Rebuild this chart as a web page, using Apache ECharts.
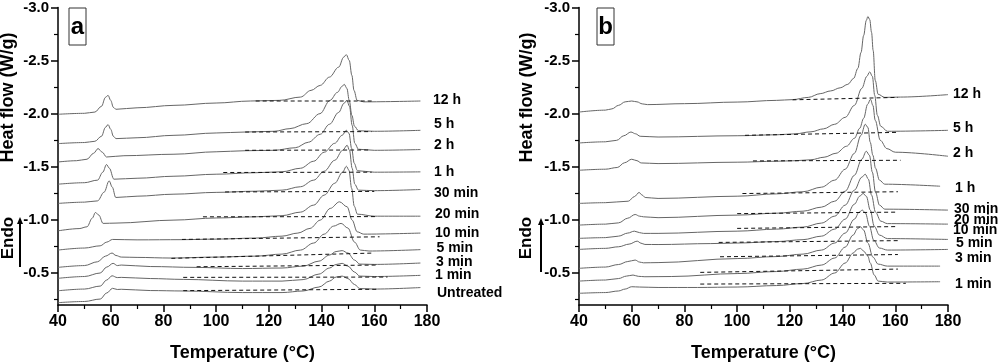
<!DOCTYPE html>
<html><head><meta charset="utf-8">
<script src="https://cdn.jsdelivr.net/npm/echarts@6/dist/echarts.min.js"></script>
<style>html,body{margin:0;padding:0;background:#fff}#c{width:1000px;height:363px}</style>
</head><body><div id="c"></div>
<script>
// ---------- DATA (Temperature °C, Heat flow W/g) ----------
const xTickRange = [40, 180];
const yMajorTicks = [-3.0, -2.5, -2.0, -1.5, -1.0, -0.5];
const yMinorTicks = [-2.75, -2.25, -1.75, -1.25, -0.75, -0.25];

// Panel a
const A_12h = [[40,-1.995],[50,-2.004],[54,-2.016],[56.5,-2.070],[58,-2.154],[59,-2.173],[60,-2.126],[61,-2.060],[62,-2.042],[70,-2.056],[84,-2.079],[100,-2.101],[113,-2.120],[124,-2.126],[132,-2.157],[136,-2.220],[139.5,-2.267],[143,-2.345],[146.5,-2.439],[148.4,-2.533],[149.4,-2.556],[150.5,-2.502],[151.5,-2.361],[152.3,-2.220],[153.5,-2.126],[156,-2.112],[177.5,-2.120]];
const A_5h = [[40,-1.719],[50,-1.729],[54,-1.741],[56.5,-1.788],[58,-1.872],[59,-1.898],[60,-1.854],[61,-1.788],[62,-1.766],[70,-1.774],[84,-1.797],[100,-1.819],[111,-1.828],[122,-1.835],[128,-1.860],[134.4,-1.907],[139.4,-2.001],[143.2,-2.126],[146,-2.201],[147.8,-2.258],[148.6,-2.277],[149.6,-2.239],[150.5,-2.126],[151.5,-1.985],[152.5,-1.882],[154,-1.840],[160,-1.835],[177.5,-1.844]];
const A_2h = [[40,-1.546],[47,-1.558],[51,-1.572],[53.5,-1.628],[55.2,-1.672],[56.8,-1.638],[58.4,-1.593],[65,-1.605],[84,-1.619],[100,-1.642],[111,-1.652],[122,-1.656],[130,-1.680],[135,-1.732],[139.5,-1.807],[143,-1.901],[146.5,-2.013],[148.5,-2.098],[149.6,-2.126],[150.6,-2.070],[151.6,-1.891],[152.6,-1.722],[154,-1.666],[160,-1.656],[177.5,-1.663]];
const A_1h = [[40,-1.337],[50,-1.351],[55,-1.375],[57,-1.450],[58.4,-1.522],[59.5,-1.487],[61.2,-1.384],[70,-1.393],[84,-1.412],[100,-1.431],[115,-1.445],[125,-1.454],[132,-1.487],[137,-1.553],[141,-1.638],[145,-1.722],[147.8,-1.797],[149.4,-1.844],[150.4,-1.816],[151.4,-1.675],[152.4,-1.534],[153.6,-1.464],[160,-1.450],[177.5,-1.453]];
const A_30m = [[40,-1.156],[50,-1.168],[55,-1.180],[57.5,-1.262],[59.4,-1.368],[60.6,-1.309],[61.9,-1.212],[70,-1.224],[84,-1.243],[100,-1.260],[115,-1.271],[125,-1.281],[132,-1.313],[137,-1.375],[141,-1.459],[145,-1.562],[148,-1.656],[149.7,-1.703],[150.6,-1.656],[151.6,-1.487],[152.6,-1.337],[154,-1.281],[160,-1.276],[177.5,-1.287]];
const A_20m = [[40,-0.898],[48,-0.919],[51,-0.936],[53,-1.017],[54.2,-1.071],[55.5,-1.046],[57.1,-0.968],[62,-0.971],[84,-0.999],[100,-1.019],[115,-1.030],[125,-1.041],[132,-1.074],[137,-1.140],[141,-1.234],[145,-1.346],[148,-1.450],[149.4,-1.506],[150.4,-1.468],[151.4,-1.299],[152.4,-1.130],[153.6,-1.055],[160,-1.036],[177.5,-1.036]];
const A_10m = [[40,-0.717],[50,-0.736],[56,-0.757],[58.5,-0.792],[60.7,-0.817],[70,-0.813],[87,-0.815],[100,-0.820],[115,-0.830],[125,-0.848],[131,-0.877],[135.6,-0.921],[139.5,-0.999],[143.3,-1.109],[146.8,-1.171],[149.7,-1.124],[151.6,-0.999],[153.5,-0.889],[156,-0.867],[177.5,-0.877]];
const A_5m = [[40,-0.554],[50,-0.571],[55,-0.607],[58,-0.660],[60.5,-0.689],[62,-0.666],[64,-0.651],[70,-0.648],[83,-0.642],[100,-0.651],[115,-0.660],[125,-0.679],[132,-0.717],[137,-0.783],[141,-0.867],[144.5,-0.942],[147.4,-0.968],[150,-0.924],[152.5,-0.792],[154.7,-0.717],[158,-0.708],[177.5,-0.721]];
const A_3m = [[40,-0.451],[50,-0.468],[56,-0.501],[58.5,-0.557],[60.9,-0.592],[62.5,-0.571],[64,-0.576],[75,-0.562],[92,-0.554],[110,-0.543],[125,-0.548],[133,-0.566],[139,-0.613],[143,-0.670],[145.5,-0.703],[147.8,-0.712],[150,-0.689],[152.5,-0.623],[154.5,-0.585],[160,-0.582],[177.5,-0.595]];
const A_1m = [[40,-0.334],[50,-0.350],[56,-0.378],[58.5,-0.435],[60.5,-0.475],[62.5,-0.458],[64,-0.460],[75,-0.449],[87.5,-0.441],[110,-0.425],[125,-0.425],[133,-0.439],[139,-0.491],[143,-0.548],[145.5,-0.581],[147.8,-0.592],[150,-0.566],[152.5,-0.510],[154.5,-0.472],[160,-0.468],[177.5,-0.479]];
const A_un = [[40,-0.222],[50,-0.233],[56,-0.256],[58.5,-0.313],[60.7,-0.357],[62.5,-0.346],[64,-0.348],[75,-0.336],[87.5,-0.332],[110,-0.317],[125,-0.317],[133,-0.332],[139,-0.369],[143,-0.425],[145.5,-0.463],[147.8,-0.472],[150,-0.449],[152.5,-0.393],[154.5,-0.355],[160,-0.350],[177.5,-0.364]];

const A_12h_base = [[115,-2.120],[160,-2.120]];
const A_5h_base = [[111,-1.828],[159,-1.832]];
const A_2h_base = [[111,-1.656],[158,-1.659]];
const A_1h_base = [[102.7,-1.447],[159,-1.450]];
const A_30m_base = [[103.4,-1.264],[160,-1.269]];
const A_20m_base = [[95,-1.030],[161,-1.032]];
const A_10m_base = [[87,-0.817],[162,-0.842]];
const A_5m_base = [[83,-0.639],[160,-0.689]];
const A_3m_base = [[92.6,-0.560],[161,-0.576]];
const A_1m_base = [[87.5,-0.460],[165,-0.463]];
const A_un_base = [[87.5,-0.335],[161,-0.348]];

const labelsA = ['12 h','5 h','2 h','1 h','30 min','20 min','10 min','5 min','3 min','1 min','Untreated'];

// Panel b
const B_12h = [[40,-2.016],[50,-2.034],[52.5,-2.046],[55,-2.079],[57.5,-2.112],[60,-2.120],[62,-2.112],[64,-2.093],[66,-2.086],[80,-2.095],[100,-2.110],[115,-2.126],[121,-2.133],[127,-2.154],[131.5,-2.189],[135.5,-2.215],[139.1,-2.244],[142,-2.277],[144.2,-2.333],[145.8,-2.427],[147,-2.577],[148,-2.737],[149,-2.878],[149.6,-2.915],[150.3,-2.887],[151,-2.765],[151.6,-2.596],[152.4,-2.314],[153.5,-2.183],[156,-2.154],[162,-2.157],[180,-2.180]];
const B_5h = [[40,-1.725],[50,-1.736],[54.3,-1.750],[57,-1.793],[59.7,-1.828],[61.5,-1.811],[63.2,-1.788],[70,-1.781],[100,-1.793],[115,-1.802],[122,-1.811],[128,-1.830],[132.8,-1.858],[137,-1.901],[141,-1.966],[144.5,-2.079],[147.3,-2.239],[149.2,-2.352],[150.3,-2.394],[151.3,-2.352],[152.2,-2.173],[153.2,-1.985],[154.5,-1.882],[157,-1.835],[180,-1.844]];
const B_2h = [[40,-1.468],[50,-1.478],[54.5,-1.494],[57.3,-1.539],[60,-1.572],[62,-1.558],[63.6,-1.537],[70,-1.531],[100,-1.544],[115,-1.553],[122,-1.558],[128,-1.567],[133,-1.591],[137.5,-1.628],[141.5,-1.694],[144.5,-1.769],[146.5,-1.863],[148,-1.957],[149.5,-2.089],[150.6,-2.136],[151.5,-2.079],[152.4,-1.938],[154.3,-1.750],[156.8,-1.672],[160,-1.638],[180,-1.600]];
const B_1h = [[40,-1.156],[50,-1.163],[58.7,-1.177],[61,-1.220],[62.8,-1.259],[64,-1.234],[65.1,-1.212],[70,-1.203],[100,-1.224],[115,-1.246],[125,-1.266],[132,-1.309],[137,-1.375],[141,-1.478],[144.5,-1.628],[147,-1.797],[148.6,-1.901],[149.6,-1.872],[150.5,-1.732],[151.5,-1.609],[152.5,-1.487],[154,-1.375],[156,-1.337],[177,-1.318]];
const B_30m = [[40,-0.952],[50,-0.961],[55,-0.973],[58.5,-1.017],[61.3,-1.052],[63,-1.036],[64.5,-1.030],[70,-1.022],[100,-1.046],[115,-1.064],[125,-1.083],[132,-1.121],[137,-1.177],[141,-1.271],[144.5,-1.421],[147.3,-1.572],[149,-1.647],[150.2,-1.609],[151.3,-1.450],[152.5,-1.262],[154,-1.140],[156,-1.102],[180,-1.093]];
const B_20m = [[40,-0.827],[50,-0.834],[55,-0.848],[58.5,-0.877],[61,-0.895],[63,-0.881],[64.5,-0.874],[70,-0.874],[100,-0.895],[115,-0.914],[125,-0.933],[132,-0.971],[137,-1.036],[141,-1.140],[144.5,-1.281],[147.3,-1.403],[148.6,-1.431],[149.8,-1.384],[151,-1.234],[152.5,-1.074],[154.5,-0.989],[157,-0.966],[180,-0.961]];
const B_10m = [[40,-0.723],[50,-0.733],[55,-0.748],[59,-0.773],[62.1,-0.801],[63.5,-0.782],[65,-0.770],[70,-0.769],[90,-0.778],[100,-0.783],[115,-0.797],[125,-0.815],[132,-0.848],[137,-0.914],[141,-1.008],[144.5,-1.149],[146.5,-1.224],[147.8,-1.250],[149,-1.224],[150.5,-1.093],[152,-0.942],[154,-0.858],[157,-0.825],[180,-0.817]];
const B_5m = [[40,-0.545],[50,-0.557],[55,-0.581],[58.5,-0.609],[61.3,-0.623],[63,-0.604],[64.5,-0.597],[70,-0.599],[100,-0.637],[115,-0.656],[125,-0.679],[132,-0.717],[137,-0.783],[141,-0.877],[144.5,-1.008],[146.3,-1.074],[147.5,-1.093],[148.7,-1.064],[150.2,-0.942],[151.8,-0.811],[154,-0.736],[157,-0.717],[180,-0.723]];
const B_3m = [[40,-0.425],[50,-0.435],[55,-0.449],[58,-0.472],[60.5,-0.482],[62.5,-0.470],[65,-0.466],[75,-0.468],[100,-0.496],[115,-0.515],[125,-0.538],[132,-0.576],[137,-0.642],[141,-0.745],[144,-0.858],[145.7,-0.919],[146.8,-0.936],[148,-0.905],[149.6,-0.783],[151.5,-0.651],[153.5,-0.585],[157,-0.566],[177,-0.566]];
const B_1m = [[40,-0.310],[50,-0.317],[55,-0.332],[57.5,-0.350],[60,-0.372],[63,-0.369],[70,-0.365],[85,-0.365],[100,-0.369],[115,-0.383],[125,-0.402],[132,-0.435],[137,-0.501],[141,-0.595],[144,-0.689],[145.7,-0.726],[146.8,-0.733],[148,-0.707],[149.6,-0.660],[150.5,-0.595],[152,-0.482],[153.5,-0.425],[157,-0.416],[177,-0.419]];

const B_12h_base = [[121,-2.131],[161,-2.154]];
const B_5h_base = [[103,-1.797],[161,-1.825]];
const B_2h_base = [[106,-1.556],[162,-1.562]];
const B_1h_base = [[102,-1.249],[161,-1.266]];
const B_30m_base = [[100,-1.060],[161,-1.074]];
const B_20m_base = [[100,-0.921],[161,-0.938]];
const B_10m_base = [[93,-0.789],[162,-0.806]];
const B_5m_base = [[93.5,-0.654],[161,-0.675]];
const B_3m_base = [[86,-0.507],[161,-0.538]];
const B_1m_base = [[86,-0.397],[164,-0.404]];

const labelsB = ['12 h','5 h','2 h','1 h','30 min','20 min','10 min','5 min','3 min','1 min'];

// ---------- LAYOUT ----------
const FONT = '"Liberation Sans", Arial, Helvetica, sans-serif';
const curvesA = [A_12h,A_5h,A_2h,A_1h,A_30m,A_20m,A_10m,A_5m,A_3m,A_1m,A_un];
const basesA = [A_12h_base,A_5h_base,A_2h_base,A_1h_base,A_30m_base,A_20m_base,A_10m_base,A_5m_base,A_3m_base,A_1m_base,A_un_base];
const curvesB = [B_12h,B_5h,B_2h,B_1h,B_30m,B_20m,B_10m,B_5m,B_3m,B_1m];
const basesB = [B_12h_base,B_5h_base,B_2h_base,B_1h_base,B_30m_base,B_20m_base,B_10m_base,B_5m_base,B_3m_base,B_1m_base];
const labelPosA = {x:[433,434,434,434,434,435,435,436.5,436,435,437], y:[100,124,145,171.7,192.7,214,233.3,248.3,261.7,275,293.3]};
const labelPosB = {x:[953,953,953,955,954,954,953,956,955,955], y:[94.3,127.7,153.3,188.3,209,220,230,243.3,257.7,284]};

const grids = [
  {left:58, top:7, width:369, height:298},
  {left:579, top:7, width:369, height:298}
];

function xAxis(gi){
  return {type:'value', gridIndex:gi, min:xTickRange[0], max:xTickRange[1], interval:20,
    axisLine:{onZero:false, lineStyle:{color:'#000', width:1.5}},
    axisTick:{length:7, lineStyle:{color:'#000', width:1.5}},
    minorTick:{show:true, splitNumber:2, length:4, lineStyle:{color:'#000', width:1.2}},
    splitLine:{show:false}, minorSplitLine:{show:false},
    axisLabel:{color:'#000', fontSize:16, fontWeight:'bold', fontFamily:FONT, margin:9}};
}
function yAxisMajor(gi){
  return {type:'value', gridIndex:gi, inverse:true, min:-3, max:-0.2, position:'left',
    axisLine:{onZero:false, lineStyle:{color:'#000', width:1.5}},
    axisTick:{customValues:yMajorTicks, length:7, lineStyle:{color:'#000', width:1.5}},
    axisLabel:{customValues:yMajorTicks, formatter:v=>Number(v).toFixed(1), color:'#000', fontSize:15, fontWeight:'bold', fontFamily:FONT, margin:9},
    splitLine:{show:false}};
}
function yAxisMinor(gi){
  return {type:'value', gridIndex:gi, inverse:true, min:-3, max:-0.2, position:'left', offset:0,
    axisLine:{show:false},
    axisTick:{customValues:yMinorTicks, length:4, lineStyle:{color:'#000', width:1.2}},
    axisLabel:{show:false}, splitLine:{show:false}};
}

const series = [];
function addPanel(curves, bases, gi){
  bases.forEach(d => series.push({type:'line', xAxisIndex:gi, yAxisIndex:gi*2, data:d, showSymbol:false, silent:true,
    lineStyle:{color:'#111', width:1, type:[4,3]}, z:3}));
  curves.forEach(d => series.push({type:'line', xAxisIndex:gi, yAxisIndex:gi*2, data:d, showSymbol:false, silent:true,
    smooth:0.35, smoothMonotone:'x', lineStyle:{color:'#666', width:1}, z:2}));
}
addPanel(curvesA, basesA, 0);
addPanel(curvesB, basesB, 1);

const graphic = [];
function txt(x, y, text, size, opts){
  graphic.push(Object.assign({type:'text', x:x, y:y, silent:true,
    style:{text:text, fill:'#000', font:'bold '+size+'px '+FONT, textAlign:'left', textVerticalAlign:'middle'}}, opts||{}));
}
labelsA.forEach((t,i)=>txt(labelPosA.x[i], labelPosA.y[i], t, 14));
labelsB.forEach((t,i)=>txt(labelPosB.x[i], labelPosB.y[i], t, 14));

function panelDeco(cx, axisTitleX, arrowX, arrowTop, arrowBottom, boxX, letter){
  // x title
  graphic.push({type:'text', x:cx, y:353, silent:true, style:{text:'Temperature (°C)', fill:'#000', font:'bold 18px '+FONT, textAlign:'center', textVerticalAlign:'middle'}});
  // y title
  graphic.push({type:'text', x:axisTitleX, y:97.5, rotation:Math.PI/2, silent:true, style:{text:'Heat flow (W/g)', fill:'#000', font:'bold 18px '+FONT, textAlign:'center', textVerticalAlign:'middle'}});
  // Endo
  graphic.push({type:'text', x:axisTitleX, y:238, rotation:Math.PI/2, silent:true, style:{text:'Endo', fill:'#000', font:'bold 17px '+FONT, textAlign:'center', textVerticalAlign:'middle'}});
  // arrow
  graphic.push({type:'line', silent:true, shape:{x1:arrowX, y1:arrowBottom, x2:arrowX, y2:arrowTop+5}, style:{stroke:'#000', lineWidth:2}});
  graphic.push({type:'polygon', silent:true, shape:{points:[[arrowX, arrowTop],[arrowX-3, arrowTop+7],[arrowX+3, arrowTop+7]]}, style:{fill:'#000'}});
  // panel letter box
  graphic.push({type:'rect', silent:true, shape:{x:boxX, y:8, width:17, height:37}, style:{fill:'#fff', stroke:'#333', lineWidth:1}, z:10});
  graphic.push({type:'text', x:boxX+8.5, y:27, silent:true, z:11, style:{text:letter, fill:'#000', font:'bold 24px '+FONT, textAlign:'center', textVerticalAlign:'middle'}});
}
panelDeco(242.5, 8.5, 20, 217, 267, 69, 'a');
panelDeco(763.5, 526.7, 541, 218, 272, 597, 'b');

const chart = echarts.init(document.getElementById('c'), null, {renderer:'canvas'});
chart.setOption({
  animation:false,
  backgroundColor:'#fff',
  grid:grids,
  xAxis:[xAxis(0), xAxis(1)],
  yAxis:[yAxisMajor(0), yAxisMinor(0), yAxisMajor(1), yAxisMinor(1)],
  series:series,
  graphic:graphic
});
</script>
</body></html>
